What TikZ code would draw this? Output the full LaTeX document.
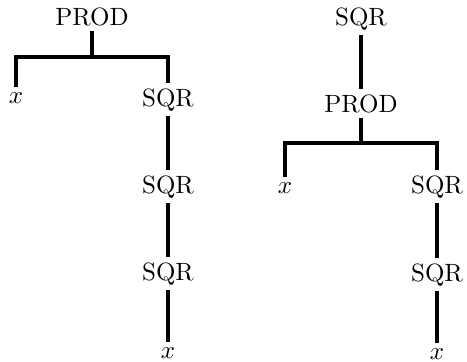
\documentclass[tikz,border=0pt]{standalone}
\begin{document}
\begin{tikzpicture}[x=0.4pt,y=-0.4pt,
  lbl/.style={anchor=base,inner sep=2pt},
  edge/.style={draw,line width=1.8pt}]
\useasboundingbox (0,0) rectangle (467,361);
% left tree
\node[lbl] (p1) at (92,25) {PROD};
\node[lbl] (x1) at (16,103) {$x$};
\node[lbl] (s1) at (168,106) {SQR};
\node[lbl] (s2) at (168,193) {SQR};
\node[lbl] (s3) at (168,280) {SQR};
\node[lbl] (x2) at (168,358) {$x$};
\coordinate (b1) at (92,57);
\path[edge] (p1.south) -- (b1);
\path[edge] (x1.north) |- (b1) -| (s1.north);
\path[edge] (s1.south) -- (s2.north);
\path[edge] (s2.south) -- (s3.north);
\path[edge] (s3.south) -- (x2.north);
% right tree
\node[lbl] (s4) at (361,25) {SQR};
\node[lbl] (p2) at (361,112) {PROD};
\node[lbl] (x3) at (285,193) {$x$};
\node[lbl] (s5) at (437,193) {SQR};
\node[lbl] (s6) at (437,281) {SQR};
\node[lbl] (x4) at (437,359) {$x$};
\coordinate (b2) at (361,143);
\path[edge] (s4.south) -- (p2.north);
\path[edge] (p2.south) -- (b2);
\path[edge] (x3.north) |- (b2) -| (s5.north);
\path[edge] (s5.south) -- (s6.north);
\path[edge] (s6.south) -- (x4.north);
\end{tikzpicture}
\end{document}
